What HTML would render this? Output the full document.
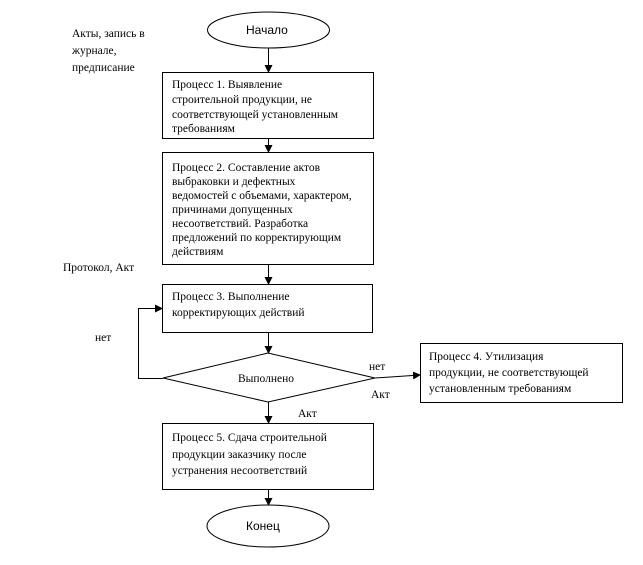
<!DOCTYPE html>
<html><head><meta charset="utf-8"><style>
body{margin:0;background:#fff}
svg text{font-family:"Liberation Serif",serif;font-size:11.5px;fill:#000}
.s{font-family:"Liberation Sans",sans-serif!important;font-size:12px!important}
</style></head><body>
<svg width="643" height="560" xmlns="http://www.w3.org/2000/svg">
<defs><marker id="a" markerWidth="8" markerHeight="8" refX="7" refY="4" orient="auto" markerUnits="userSpaceOnUse"><path d="M0,0L8,4L0,8z" fill="#000"/></marker></defs>
<g fill="none" stroke="#000" stroke-width="1">
<ellipse cx="268.5" cy="30" rx="61" ry="18"/>
<rect x="162.5" y="72.5" width="211" height="66"/>
<rect x="162.5" y="152.5" width="211" height="112"/>
<rect x="162.5" y="284.5" width="210" height="48"/>
<polygon points="163,378 268,353 375,378 268,402"/>
<rect x="420.5" y="343.5" width="202" height="59"/>
<rect x="162.5" y="423.5" width="211" height="66"/>
<ellipse cx="268" cy="526" rx="61" ry="21"/>
<line x1="268.5" y1="48" x2="268.5" y2="72" marker-end="url(#a)"/>
<line x1="268.5" y1="139" x2="268.5" y2="152" marker-end="url(#a)"/>
<line x1="268.5" y1="265" x2="268.5" y2="284" marker-end="url(#a)"/>
<line x1="268.5" y1="333" x2="268.5" y2="353" marker-end="url(#a)"/>
<line x1="268.5" y1="402" x2="268.5" y2="423" marker-end="url(#a)"/>
<line x1="268.5" y1="490" x2="268.5" y2="505" marker-end="url(#a)"/>
<polyline points="163,378.5 138.5,378.5 138.5,308.5 162,308.5" marker-end="url(#a)"/>
<line x1="375" y1="378" x2="420" y2="375" marker-end="url(#a)"/>
</g>
<text class="s" x="246" y="34">Начало</text>
<text class="s" x="246" y="530">Конец</text>
<text x="72" y="37">Акты, запись в</text>
<text x="72" y="54">журнале,</text>
<text x="72" y="71">предписание</text>
<text x="172" y="88">Процесс 1.  Выявление</text>
<text x="172" y="103">строительной продукции, не</text>
<text x="172" y="118">соответствующей установленным</text>
<text x="172" y="132">требованиям</text>
<text x="172" y="171">Процесс 2. Составление актов</text>
<text x="172" y="185">выбраковки и дефектных</text>
<text x="172" y="199">ведомостей с объемами, характером,</text>
<text x="172" y="213">причинами допущенных</text>
<text x="172" y="227">несоответствий. Разработка</text>
<text x="172" y="241">предложений по корректирующим</text>
<text x="172" y="255">действиям</text>
<text x="63" y="271">Протокол, Акт</text>
<text x="172" y="300">Процесс 3. Выполнение</text>
<text x="172" y="316">корректирующих действий</text>
<text x="95" y="341">нет</text>
<text x="238" y="382">Выполнено</text>
<text x="369" y="370">нет</text>
<text x="371" y="398">Акт</text>
<text x="298" y="417">Акт</text>
<text x="429" y="360">Процесс 4.  Утилизация</text>
<text x="429" y="376">продукции, не соответствующей</text>
<text x="429" y="392">установленным требованиям</text>
<text x="172" y="441">Процесс 5. Сдача строительной</text>
<text x="172" y="458">продукции заказчику после</text>
<text x="172" y="474">устранения несоответствий</text>
</svg>
</body></html>
